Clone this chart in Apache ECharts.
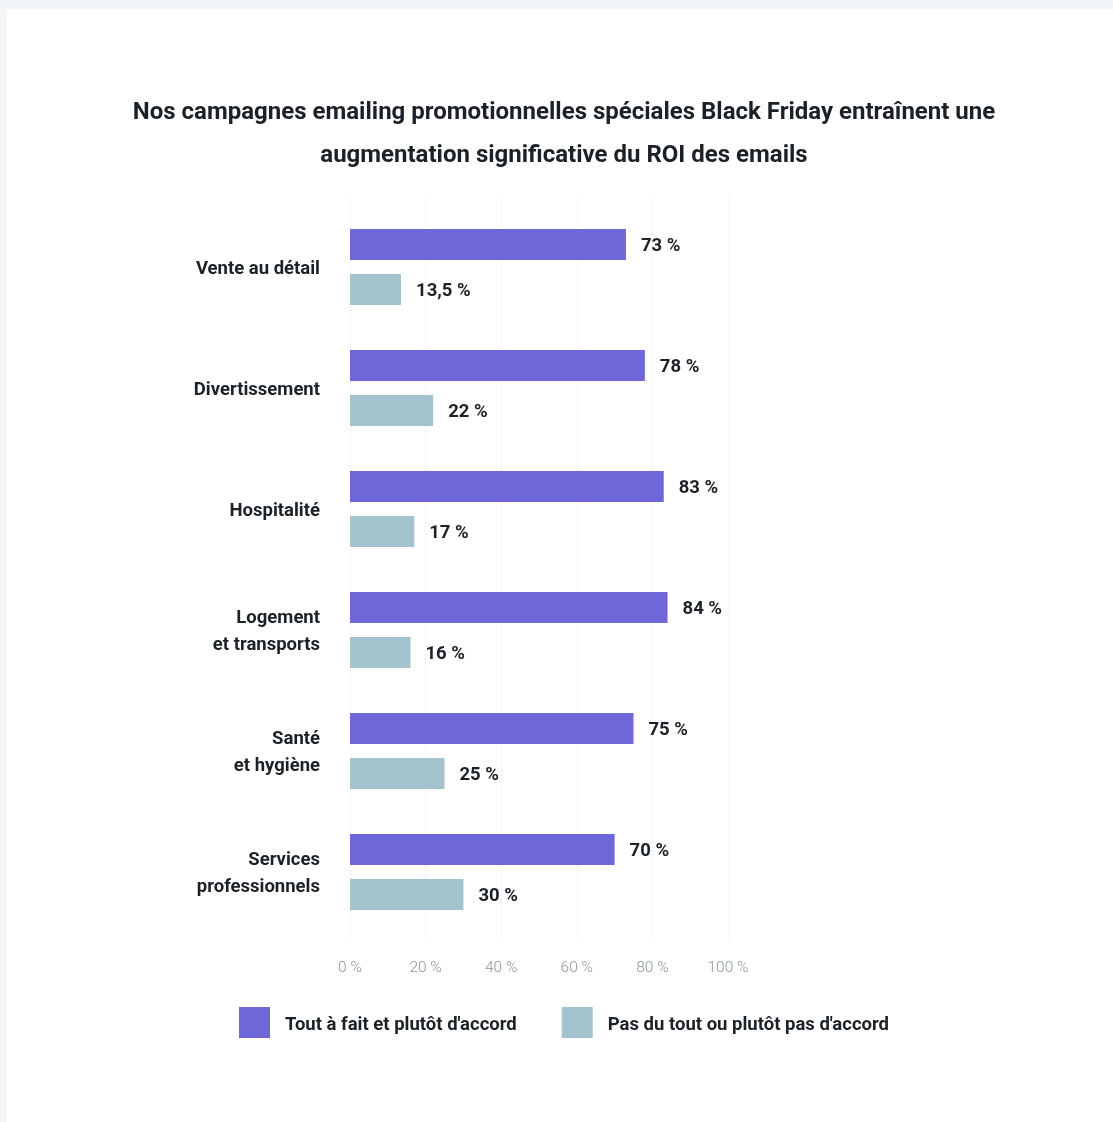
<!DOCTYPE html>
<html lang="fr">
<head>
<meta charset="utf-8">
<title>ROI des emails – Black Friday</title>
<script src="https://cdn.jsdelivr.net/npm/echarts@6/dist/echarts.min.js"></script>
<style>
  html, body { margin: 0; padding: 0; background: #f3f6f9; }
  #chart { width: 1113px; height: 1122px; }
</style>
</head>
<body>
<div id="chart"></div>
<script>
// Secteurs interrogés (de haut en bas)
const categories = [
  'Vente au détail',
  'Divertissement',
  'Hospitalité',
  'Logement\net transports',
  'Santé\net hygiène',
  'Services\nprofessionnels'
];
const seriesNames = ["Tout à fait et plutôt d'accord", "Pas du tout ou plutôt pas d'accord"];
const agreeValues = [73, 78, 83, 84, 75, 70];
const disagreeValues = [13.5, 22, 17, 16, 25, 30];
const tickValues = [0, 20, 40, 60, 80, 100];

const DARK = '#1c2127';
const PURPLE = '#6f66d9';
const TEAL = '#a3c4ce';
const FONT = 'Roboto, "Noto Sans", sans-serif';

const fmtPct = v => String(v).replace('.', ',') + ' %';

const chart = echarts.init(document.getElementById('chart'), null, { renderer: 'canvas' });

const barLabel = {
  show: true,
  position: 'right',
  distance: 15,
  offset: [0, 2],
  color: DARK,
  fontFamily: FONT,
  fontWeight: 'bold',
  fontSize: 18.5,
  formatter: p => fmtPct(p.value)
};

chart.setOption({
  backgroundColor: '#f3f6f9',
  textStyle: { fontFamily: FONT },
  graphic: [{
    type: 'rect',
    z: -10,
    silent: true,
    shape: { x: 7, y: 9, width: 1106, height: 1113 },
    style: { fill: '#ffffff' }
  }],
  title: {
    text: 'Nos campagnes emailing promotionnelles spéciales Black Friday entraînent une\naugmentation significative du ROI des emails',
    left: 564,
    top: 91,
    padding: 0,
    textAlign: 'center',
    textStyle: {
      color: DARK,
      fontFamily: FONT,
      fontWeight: 'bold',
      fontSize: 24,
      lineHeight: 43
    }
  },
  legend: {
    left: 239,
    top: 1007,
    padding: 0,
    itemWidth: 31,
    itemHeight: 31,
    itemGap: 45,
    icon: 'rect',
    data: seriesNames,
    formatter: name => '{t|' + name + '}',
    textStyle: {
      color: DARK,
      fontFamily: FONT,
      fontWeight: 'bold',
      fontSize: 18.5,
      rich: {
        t: {
          color: DARK,
          fontFamily: FONT,
          fontWeight: 'bold',
          fontSize: 18.5,
          padding: [5, 0, 0, 10]
        }
      }
    }
  },
  grid: [
    // bars
    { left: 350, width: 378, top: 206.5, height: 726, containLabel: false },
    // dotted guide lines and tick labels
    { left: 350, width: 378, top: 198, height: 742, containLabel: false }
  ],
  xAxis: [
    {
      gridIndex: 0,
      type: 'value',
      min: 0, max: 100, interval: 20,
      axisLine: { show: false },
      axisTick: { show: false },
      axisLabel: { show: false },
      splitLine: { show: false }
    },
    {
      gridIndex: 1,
      type: 'value',
      min: tickValues[0], max: tickValues[tickValues.length - 1], interval: 20,
      axisLine: { show: false },
      axisTick: { show: false },
      axisLabel: {
        margin: 20,
        color: '#8a959f',
        fontFamily: FONT,
        fontWeight: 300,
        fontSize: 15.5,
        formatter: v => v + ' %'
      },
      splitLine: {
        show: true,
        lineStyle: { color: '#d9dde2', type: [1, 3], width: 1 }
      }
    }
  ],
  yAxis: [
    {
      gridIndex: 0,
      type: 'category',
      inverse: true,
      data: categories,
      axisLine: { show: false },
      axisTick: { show: false },
      axisLabel: {
        margin: 30,
        align: 'right',
        formatter: v => v.split('\n').map(line => '{c|' + line + '}').join('\n'),
        rich: {
          c: {
            color: DARK,
            fontFamily: FONT,
            fontWeight: 'bold',
            fontSize: 18.5,
            lineHeight: 27,
            padding: [4, 0, 0, 0],
            align: 'right'
          }
        }
      }
    },
    {
      gridIndex: 1,
      type: 'category',
      data: [],
      show: false
    }
  ],
  series: [
    {
      name: seriesNames[0],
      type: 'bar',
      xAxisIndex: 0,
      yAxisIndex: 0,
      data: agreeValues,
      barWidth: 31,
      barGap: '45%',
      itemStyle: { color: PURPLE },
      label: barLabel,
      animation: false
    },
    {
      name: seriesNames[1],
      type: 'bar',
      xAxisIndex: 0,
      yAxisIndex: 0,
      data: disagreeValues,
      barWidth: 31,
      barGap: '45%',
      itemStyle: { color: TEAL },
      label: barLabel,
      animation: false
    }
  ],
  animation: false
});
</script>
</body>
</html>
